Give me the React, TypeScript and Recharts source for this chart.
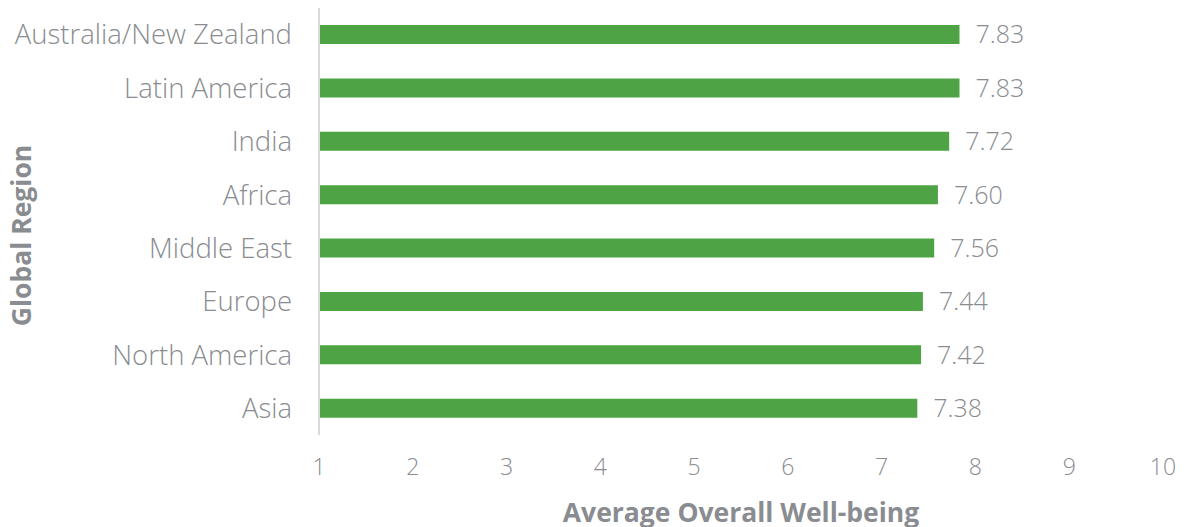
import React from 'react';
import { BarChart, Bar, XAxis, YAxis, LabelList } from 'recharts';

const regions = [
  'Australia/New Zealand',
  'Latin America',
  'India',
  'Africa',
  'Middle East',
  'Europe',
  'North America',
  'Asia'
];
const wellBeing = [7.83, 7.83, 7.72, 7.6, 7.56, 7.44, 7.42, 7.38];
const xTicks = [1, 2, 3, 4, 5, 6, 7, 8, 9, 10];

const data = regions.map((region, i) => ({ region, score: wellBeing[i] }));

const GREY = '#898c90';
const FONT = '"Open Sans", sans-serif';

const App: React.FC = () => {
  return (
    <div style={{ position: 'absolute', left: 0, top: 0, fontFamily: FONT }}>
      <BarChart
        width={1184}
        height={527}
        data={data}
        layout="vertical"
        margin={{ top: 8, right: 21, left: 0, bottom: 0 }}
      >
        <XAxis
          type="number"
          domain={[1, 10]}
          ticks={xTicks}
          allowDataOverflow
          axisLine={false}
          tickLine={false}
          height={92}
          tickMargin={18}
          tick={{ fill: GREY, fontSize: 23, fontFamily: FONT, fontWeight: 300 }}
          label={{
            value: 'Average Overall Well-being',
            position: 'insideBottom',
            offset: 5,
            fill: GREY,
            fontSize: 26.5,
            fontWeight: 700,
            fontFamily: FONT
          }}
        />
        <YAxis
          type="category"
          dataKey="region"
          width={319}
          axisLine={{ stroke: '#d9d9d9', strokeWidth: 2 }}
          tickLine={false}
          tickMargin={21}
          tick={{ fill: GREY, fontSize: 27.5, fontFamily: FONT, fontWeight: 300 }}
          label={{
            value: 'Global Region',
            angle: -90,
            position: 'insideLeft',
            offset: 22,
            dy: 14,
            fill: GREY,
            fontSize: 26.5,
            fontWeight: 700,
            fontFamily: FONT,
            style: { textAnchor: 'middle' }
          }}
        />
        <Bar dataKey="score" fill="#4ea444" barSize={19} isAnimationActive={false}>
          <LabelList
            dataKey="score"
            position="right"
            offset={16}
            formatter={(v: any) => Number(v).toFixed(2)}
            fill={GREY}
            fontSize={25}
            fontFamily={FONT}
            fontWeight={300}
          />
        </Bar>
      </BarChart>
    </div>
  );
};

export default App;
